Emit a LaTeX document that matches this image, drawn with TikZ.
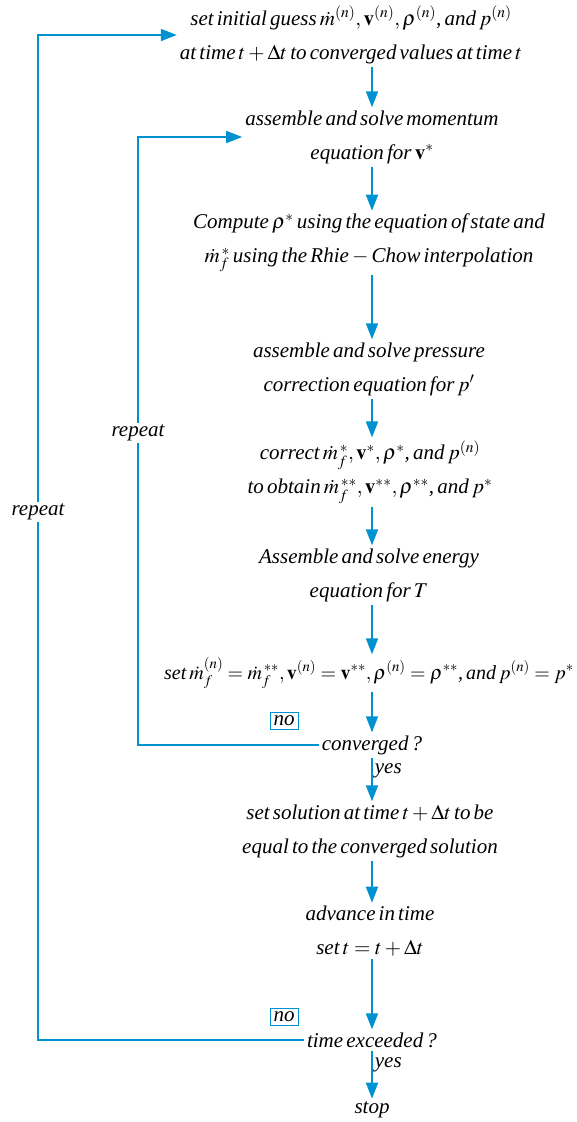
\documentclass[tikz,border=0pt]{standalone}
\usepackage{mathptmx}
\usepackage{fontspec}
\setmainfont{Liberation Serif}[WordSpace=0.6]
\usetikzlibrary{arrows.meta, positioning}
\definecolor{flowblue}{RGB}{0,146,208}

\begin{document}
\begin{tikzpicture}[x=1pt, y=-1pt,
  stepnode/.style={align=center, inner sep=3pt,
                   font=\fontsize{21}{34}\selectfont\itshape},
  lbl/.style={inner sep=2pt, text=black, font=\fontsize{21}{22}\selectfont\itshape},
  tag/.style={draw=flowblue, line width=0.9pt, inner sep=3.5pt,
              font=\fontsize{21}{22}\selectfont\itshape},
  arr/.style={-{Triangle[length=16pt,width=12pt]}, flowblue, line width=1.8pt},
  line/.style={flowblue, line width=1.8pt}
]
  \useasboundingbox (0,0) rectangle (576,1122);
  \coordinate (spine) at (372,0);

  \node[stepnode] (init) at (351,35) {set initial guess $\dot m^{(n)}, \mathbf{v}^{(n)}, \rho^{(n)}$, and $p^{(n)}$\\
    at time $t+\Delta t$ to converged values at time $t$};
  \node[stepnode] (mom) at (372,137) {assemble and solve momentum\\ equation for $\mathbf{v}^*$};
  \node[stepnode] (dens) at (369,243) {Compute $\rho^*$ using the equation of state and\\
    $\dot m_f^{\,*}$ using the Rhie $-$ Chow interpolation};
  \node[stepnode] (press) at (369,369) {assemble and solve pressure\\ correction equation for $p'$};
  \node[stepnode] (corr) at (370,472) {correct $\dot m_f^{\,*}, \mathbf{v}^*, \rho^*$, and $p^{(n)}$\\
    to obtain $\dot m_f^{\,**}, \mathbf{v}^{**}, \rho^{**}$, and $p^*$};
  \node[stepnode] (energy) at (369,575) {Assemble and solve energy\\ equation for $T$\hspace{40pt}};
  \node[stepnode, font=\fontsize{20}{34}\selectfont\itshape] (upd) at (369,673) {set $\dot m_f^{(n)} = \dot m_f^{\,**}, \mathbf{v}^{(n)} = \mathbf{v}^{**}, \rho^{(n)} = \rho^{**}$, and $p^{(n)} = p^*$};
  \node[stepnode] (conv) at (372,745) {converged ?};
  \node[stepnode] (sol) at (370,831) {set solution at time $t+\Delta t$ to be\\ equal to the converged solution};
  \node[stepnode] (adv) at (370,931) {advance in time\\ set $t=t+\Delta t$};
  \node[stepnode] (texc) at (372,1040) {time exceeded ?};
  \node[stepnode] (stop) at (372,1110) {stop};

  % main column
  \draw[arr] (init.south -| spine) -- (mom.north -| spine);
  \draw[arr] (mom.south -| spine) -- (dens.north -| spine);
  \draw[arr] (dens.south -| spine) -- (press.north -| spine);
  \draw[arr] (press.south -| spine) -- (corr.north -| spine);
  \draw[arr] (corr.south -| spine) -- (energy.north -| spine);
  \draw[arr] (energy.south -| spine) -- (upd.north -| spine);
  \draw[arr] (upd.south -| spine) -- (conv.north -| spine);
  \draw[arr] (conv.south -| spine) -- node[lbl, pos=0.3, anchor=west] {yes} (sol.north -| spine);
  \draw[arr] (sol.south -| spine) -- (adv.north -| spine);
  \draw[arr] (adv.south -| spine) -- (texc.north -| spine);
  \draw[arr] (texc.south -| spine) -- node[lbl, pos=0.3, anchor=west] {yes} (stop.north -| spine);

  % loops back
  \node[lbl] (rep1) at (138,433) {repeat};
  \node[lbl] (rep2) at (38,512) {repeat};
  \draw[line] (conv.west) -| (rep1.south);
  \draw[arr] (rep1.north) |- (mom.west);
  \draw[line] (texc.west) -| (rep2.south);
  \draw[arr] (rep2.north) |- (init.west);
  \node[tag] (no1) at (284,721) {no};
  \node[tag] (no2) at (284,1017) {no};
\end{tikzpicture}
\end{document}
